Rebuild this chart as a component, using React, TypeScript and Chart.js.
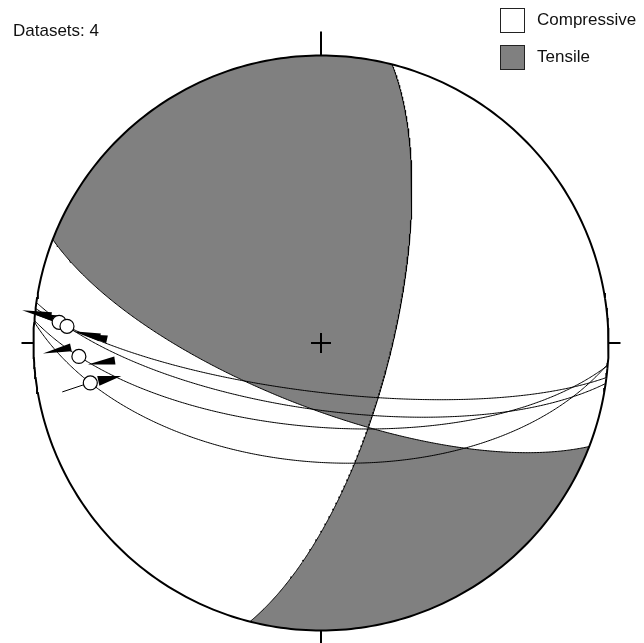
import React, { useEffect, useRef } from "react";
import { Chart, registerables } from "chart.js";

Chart.register(...registerables);

const NODAL_STRIKE = [14.3, 111.1]; // right-hand-rule strike of the two nodal planes
const NODAL_DIP = [70.2, 71.6];

const FAULT_STRIKE = [96.9, 98.1, 94.5, 94.2];
const FAULT_DIP = [76.1, 71.1, 66.1, 55.9];
const STRIATION_PITCH = [170.2, 166.8, 161.6, 156.0]; // angle along plane from strike

const LEGEND_LABELS = ["Compressive", "Tensile"];
const DATASET_LABEL = "Datasets: " + FAULT_STRIKE.length;

// ---- Layout / style ----
const W = 644;
const H = 643;
const CX = 321;
const CY = 343;
const RPX = 287.5;
const GRAY = "rgb(128,128,128)";

type V3 = [number, number, number];
type P = { x: number; y: number };
const rad = (d: number) => (d * Math.PI) / 180;
const deg = (r: number) => (r * 180) / Math.PI;

function basis(strike: number, dip: number): { S: V3; D: V3 } {
  const s = rad(strike);
  const dd = rad(strike + 90);
  const d = rad(dip);
  return {
    S: [Math.cos(s), Math.sin(s), 0],
    D: [Math.cos(d) * Math.cos(dd), Math.cos(d) * Math.sin(dd), Math.sin(d)],
  };
}
function planeVec(strike: number, dip: number, phi: number): V3 {
  const { S, D } = basis(strike, dip);
  const c = Math.cos(rad(phi));
  const s = Math.sin(rad(phi));
  return [c * S[0] + s * D[0], c * S[1] + s * D[1], c * S[2] + s * D[2]];
}
function cross(a: V3, b: V3): V3 {
  return [a[1] * b[2] - a[2] * b[1], a[2] * b[0] - a[0] * b[2], a[0] * b[1] - a[1] * b[0]];
}
const dot = (a: V3, b: V3) => a[0] * b[0] + a[1] * b[1] + a[2] * b[2];
function project(v: V3): P {
  let [n, e, dn] = v;
  if (dn < 0) {
    n = -n;
    e = -e;
    dn = -dn;
  }
  const k = 1 / Math.sqrt(1 + dn);
  return { x: e * k, y: n * k };
}
function greatCircle(strike: number, dip: number, from: number, to: number): P[] {
  const pts: P[] = [];
  const n = Math.max(2, Math.ceil(Math.abs(to - from) * 2));
  for (let i = 0; i <= n; i++) pts.push(project(planeVec(strike, dip, from + ((to - from) * i) / n)));
  return pts;
}
function primitive(a0: number, a1: number): P[] {
  const pts: P[] = [];
  const n = Math.max(2, Math.ceil(Math.abs(a1 - a0)));
  for (let i = 0; i <= n; i++) {
    const a = rad(a0 + ((a1 - a0) * i) / n);
    pts.push({ x: Math.sin(a), y: Math.cos(a) });
  }
  return pts;
}
function phiOf(strike: number, dip: number, v: V3): number {
  const { S, D } = basis(strike, dip);
  return deg(Math.atan2(dot(v, D), dot(v, S)));
}

// pixel offsets relative to a striation symbol (layout of the slip arrows)
const ARROW_LAYOUT = [
  { fault: 0, tip: [-37, -12], base: [-8, -6], w: 4 },
  { fault: 0, tip: [-27, -9], base: [-1, -3], w: 4 },
  { fault: 1, tip: [6, 5], base: [33, 11], w: 4 },
  { fault: 1, tip: [17, 8], base: [40, 13], w: 4 },
  { fault: 2, tip: [-36, -3], base: [-8, -9], w: 4 },
  { fault: 2, tip: [9, 8], base: [36, 4], w: 4 },
  { fault: 3, tip: [31, -7], base: [8, -2], w: 5 },
];
const TAIL_LAYOUT = [{ fault: 3, from: [-28, 9], to: [-7, 2] }];

const annotPlugin = {
  id: "annot",
  afterDraw(chart: any) {
    const ctx = chart.ctx as CanvasRenderingContext2D;
    ctx.save();
    ctx.font = '17px "Liberation Sans", Arial, sans-serif';
    ctx.fillStyle = "#111";
    ctx.textBaseline = "middle";
    ctx.fillText(DATASET_LABEL, 13, 31);
    const boxes = [
      { y: 8.5, fill: "#ffffff" },
      { y: 45.5, fill: GRAY },
    ];
    boxes.forEach((b, i) => {
      ctx.fillStyle = b.fill;
      ctx.fillRect(500.5, b.y, 24, 24);
      ctx.strokeStyle = "#222";
      ctx.lineWidth = 1;
      ctx.strokeRect(500.5, b.y, 24, 24);
      ctx.fillStyle = "#111";
      ctx.fillText(LEGEND_LABELS[i], 537, b.y + 12);
    });
    ctx.restore();
  },
};

export default function App() {
  const ref = useRef<HTMLCanvasElement | null>(null);

  useEffect(() => {
    if (!ref.current) return;
    const [sA, sB] = NODAL_STRIKE;
    const [dA, dB] = NODAL_DIP;
    const nA = cross(basis(sA, dA).S, basis(sA, dA).D);
    const nB = cross(basis(sB, dB).S, basis(sB, dB).D);
    let bAxis = cross(nA, nB);
    if (bAxis[2] < 0) bAxis = [-bAxis[0], -bAxis[1], -bAxis[2]];
    const phiA = phiOf(sA, dA, bAxis);
    const phiB = phiOf(sB, dB, bAxis);

    const region1 = [
      ...primitive(sB + 180, sA + 360),
      ...greatCircle(sA, dA, 0, phiA),
      ...greatCircle(sB, dB, phiB, 180),
    ];
    const region2 = [
      ...primitive(sB, sA + 180),
      ...greatCircle(sA, dA, 180, phiA),
      ...greatCircle(sB, dB, phiB, 0),
    ];

    const stria = FAULT_STRIKE.map((s, i) => project(planeVec(s, FAULT_DIP[i], STRIATION_PITCH[i])));
    const off = (p: P, dx: number, dy: number): P => ({ x: p.x + dx / RPX, y: p.y - dy / RPX });

    const line = (data: P[], w: number, order: number, color = "#000") => ({
      data,
      showLine: true,
      borderColor: color,
      borderWidth: w,
      pointRadius: 0,
      fill: false,
      order,
    });
    const poly = (data: P[], color: string, order: number) => ({
      data,
      showLine: true,
      borderColor: color,
      borderWidth: 0,
      backgroundColor: color,
      pointRadius: 0,
      fill: "shape",
      order,
    });

    const arrows = ARROW_LAYOUT.map((a) => {
      const p = stria[a.fault];
      const ux = a.tip[0] - a.base[0];
      const uy = a.tip[1] - a.base[1];
      const L = Math.hypot(ux, uy);
      const px = (-uy / L) * a.w;
      const py = (ux / L) * a.w;
      return poly(
        [
          off(p, a.tip[0], a.tip[1]),
          off(p, a.base[0] + px, a.base[1] + py),
          off(p, a.base[0] - px, a.base[1] - py),
          off(p, a.tip[0], a.tip[1]),
        ],
        "#000",
        3
      );
    });
    const tails = TAIL_LAYOUT.map((t) =>
      line([off(stria[t.fault], t.from[0], t.from[1]), off(stria[t.fault], t.to[0], t.to[1])], 1, 3)
    );

    const tk = 24 / RPX;
    const ts = 12 / RPX;
    const datasets: any[] = [
      poly(region1, GRAY, 20),
      poly(region2, GRAY, 20),
      line(greatCircle(sA, dA, 0, 180), 1, 10),
      line(greatCircle(sB, dB, 0, 180), 1, 10),
      ...FAULT_STRIKE.map((s, i) => line(greatCircle(s, FAULT_DIP[i], 0, 180), 1, 9)),
      line(primitive(0, 360), 2, 5),
      line([{ x: 0, y: 1 }, { x: 0, y: 1 + tk }], 2, 5),
      line([{ x: 0, y: -1 }, { x: 0, y: -1 - ts - 0.02 }], 2, 5),
      line([{ x: -1, y: 0 }, { x: -1 - ts, y: 0 }], 2, 5),
      line([{ x: 1, y: 0 }, { x: 1 + ts, y: 0 }], 2, 5),
      ...arrows,
      ...tails,
      {
        data: stria,
        showLine: false,
        pointStyle: "circle",
        pointRadius: 7,
        pointBackgroundColor: "#fff",
        pointBorderColor: "#000",
        pointBorderWidth: 1.2,
        order: 1,
      },
      {
        data: [{ x: 0, y: 0 }],
        showLine: false,
        pointStyle: "cross",
        pointRadius: 10,
        pointBorderColor: "#000",
        pointBorderWidth: 2,
        order: 0,
      },
    ];

    const chart = new Chart(ref.current, {
      type: "scatter",
      data: { datasets },
      options: {
        responsive: false,
        animation: false,
        devicePixelRatio: 1,
        events: [],
        layout: { padding: 0, autoPadding: false },
        plugins: { legend: { display: false }, tooltip: { enabled: false } },
        scales: {
          x: { type: "linear", display: false, min: -CX / RPX, max: (W - CX) / RPX },
          y: { type: "linear", display: false, min: -(H - CY) / RPX, max: CY / RPX },
        },
      },
      plugins: [annotPlugin],
    } as any);
    return () => chart.destroy();
  }, []);

  return (
    <div style={{ position: "fixed", left: 0, top: 0, width: W, height: H, background: "#fff" }}>
      <canvas ref={ref} width={W} height={H} style={{ display: "block", width: W, height: H }} />
    </div>
  );
}
